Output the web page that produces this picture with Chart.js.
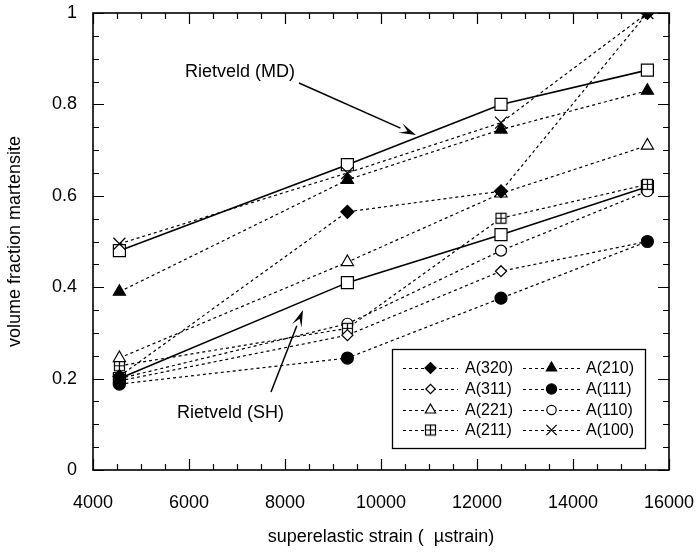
<!DOCTYPE html>
<html>
<head>
<meta charset="utf-8">
<script src="https://cdn.jsdelivr.net/npm/chart.js@4/dist/chart.umd.min.js"></script>
<style>
  html, body { margin: 0; padding: 0; background: #fff; }
  #wrap { width: 696px; height: 552px; }
</style>
</head>
<body>
<div id="wrap"><canvas id="fractionChart" width="696" height="552"></canvas></div>
<script>
// strain positions of the four load steps
const strain = [4550, 9300, 12500, 15550];

// peak-intensity fractions
const seriesLabels = ['A(320)', 'A(311)', 'A(221)', 'A(211)', 'A(210)', 'A(111)', 'A(110)', 'A(100)'];
const a320 = [0.205, 0.565, 0.61, 1.0];
const a311 = [0.195, 0.295, 0.435, 0.50];
const a221 = [0.245, 0.455, 0.605, 0.71];
const a211 = [0.228, 0.31, 0.551, 0.625];
const a210 = [0.39, 0.635, 0.745, 0.83];
const a111 = [0.188, 0.245, 0.376, 0.50];
const a110 = [0.20, 0.32, 0.48, 0.61];
const a100 = [0.495, 0.65, 0.76, 1.0];

// Rietveld refinements
const rietveldMD = [0.48, 0.668, 0.80, 0.875];
const rietveldSH = [0.20, 0.41, 0.515, 0.62];

const xTicks = [4000, 6000, 8000, 10000, 12000, 14000, 16000];
const yTicks = [0, 0.2, 0.4, 0.6, 0.8, 1];

const FONT = "'Liberation Sans', Arial, Helvetica, sans-serif";

// little "square with a cross" marker for A(211)
function gridSquare() {
    const c = document.createElement('canvas');
    c.width = 13; c.height = 13;
    const g = c.getContext('2d');
    g.fillStyle = '#fff';
    g.fillRect(1, 1, 11, 11);
    g.strokeStyle = '#000';
    g.lineWidth = 1.2;
    g.strokeRect(1.5, 1.5, 10, 10);
    g.beginPath();
    g.moveTo(6.5, 1.5); g.lineTo(6.5, 11.5);
    g.moveTo(1.5, 6.5); g.lineTo(11.5, 6.5);
    g.stroke();
    return c;
}
const gridMarker = gridSquare();

const markerStyles = [
    { pointStyle: 'rectRot', radius: 6.5, fill: '#000' },
    { pointStyle: 'rectRot', radius: 5.5, fill: '#fff' },
    { pointStyle: 'triangle', radius: 7, fill: '#fff' },
    { pointStyle: gridMarker, radius: 6, fill: '#fff' },
    { pointStyle: 'triangle', radius: 7, fill: '#000' },
    { pointStyle: 'circle', radius: 6, fill: '#000' },
    { pointStyle: 'circle', radius: 5.5, fill: '#fff' },
    { pointStyle: 'crossRot', radius: 8.5, fill: '#fff' }
];
const seriesValues = [a320, a311, a221, a211, a210, a111, a110, a100];

function toPoints(vals) {
    return vals.map((v, i) => ({ x: strain[i], y: v }));
}

const datasets = seriesValues.map((vals, i) => ({
    label: seriesLabels[i],
    data: toPoints(vals),
    borderColor: '#000',
    borderWidth: 1.2,
    borderDash: [3, 3],
    pointStyle: markerStyles[i].pointStyle,
    pointRadius: markerStyles[i].radius,
    pointBackgroundColor: markerStyles[i].fill,
    pointBorderColor: '#000',
    pointBorderWidth: 1.2,
    order: seriesLabels[i] === 'A(111)' ? -1 : 0,
    tension: 0
}));

datasets.push({
    label: 'Rietveld (MD)',
    data: toPoints(rietveldMD),
    borderColor: '#000',
    borderWidth: 1.6,
    pointStyle: 'rect',
    pointRadius: 8.5,
    pointBackgroundColor: '#fff',
    pointBorderColor: '#000',
    pointBorderWidth: 1.2,
    tension: 0
});
datasets.push({
    label: 'Rietveld (SH)',
    data: toPoints(rietveldSH),
    borderColor: '#000',
    borderWidth: 1.6,
    pointStyle: 'rect',
    pointRadius: 8.5,
    pointBackgroundColor: '#fff',
    pointBorderColor: '#000',
    pointBorderWidth: 1.2,
    tension: 0
});

// inward ticks on all four sides
const tickPlugin = {
    id: 'inTicks',
    afterDatasetsDraw(chart) {
        const ctx = chart.ctx;
        const a = chart.chartArea;
        const xs = chart.scales.x, ys = chart.scales.y;
        ctx.save();
        ctx.strokeStyle = '#000';
        ctx.lineWidth = 1.2;
        ctx.beginPath();
        for (let v = 4000; v <= 16000; v += 500) {
            const px = Math.round(xs.getPixelForValue(v)) + 0.5;
            const len = v % 2000 === 0 ? 11 : 6;
            ctx.moveTo(px, a.bottom); ctx.lineTo(px, a.bottom - len);
            ctx.moveTo(px, a.top); ctx.lineTo(px, a.top + len);
        }
        for (let k = 0; k <= 20; k++) {
            const py = Math.round(ys.getPixelForValue(k * 0.05)) + 0.5;
            const len = k % 4 === 0 ? 11 : 6;
            ctx.moveTo(a.left, py); ctx.lineTo(a.left + len, py);
            ctx.moveTo(a.right, py); ctx.lineTo(a.right - len, py);
        }
        ctx.stroke();
        ctx.lineWidth = 1.6;
        ctx.strokeRect(a.left, a.top, a.right - a.left, a.bottom - a.top);
        ctx.restore();
    }
};

function arrow(ctx, x1, y1, x2, y2) {
    const ang = Math.atan2(y2 - y1, x2 - x1);
    const L = 17, W = 5;
    const bx = x2 - L * Math.cos(ang), by = y2 - L * Math.sin(ang);
    ctx.beginPath();
    ctx.moveTo(x1, y1);
    ctx.lineTo(bx, by);
    ctx.stroke();
    ctx.beginPath();
    ctx.moveTo(x2, y2);
    ctx.lineTo(bx + W * Math.sin(ang), by - W * Math.cos(ang));
    ctx.lineTo(bx + 0.45 * L * Math.cos(ang), by + 0.45 * L * Math.sin(ang));
    ctx.lineTo(bx - W * Math.sin(ang), by + W * Math.cos(ang));
    ctx.closePath();
    ctx.fill();
}

// annotations + legend box
const notePlugin = {
    id: 'notes',
    afterDraw(chart) {
        const ctx = chart.ctx;
        ctx.save();
        ctx.fillStyle = '#000';
        ctx.strokeStyle = '#000';
        ctx.lineWidth = 1.5;
        ctx.font = '18px ' + FONT;
        ctx.textBaseline = 'middle';
        ctx.textAlign = 'left';
        ctx.fillText('Rietveld (MD)', 185, 72);
        ctx.fillText('Rietveld (SH)', 177, 413);
        arrow(ctx, 299, 83, 416, 135);
        arrow(ctx, 271, 392, 303, 310);

        // legend
        const bx = 392, by = 349, bw = 253, bh = 99;
        ctx.fillStyle = '#fff';
        ctx.fillRect(bx, by, bw, bh);
        ctx.lineWidth = 1.3;
        ctx.strokeRect(bx + 0.5, by + 0.5, bw, bh);
        ctx.font = '16px ' + FONT;
        const rows = [368, 389, 410, 430];
        const cols = [{ x0: 403, x1: 458, tx: 465 }, { x0: 523, x1: 580, tx: 586 }];
        const meta = [0, 4, 1, 5, 2, 6, 3, 7];
        meta.forEach((di, k) => {
            const c = cols[k % 2], ry = rows[Math.floor(k / 2)];
            const ds = chart.data.datasets[di];
            ctx.strokeStyle = '#000';
            ctx.lineWidth = 1;
            ctx.setLineDash([3, 3]);
            ctx.beginPath();
            ctx.moveTo(c.x0, ry + 0.5); ctx.lineTo(c.x1, ry + 0.5);
            ctx.stroke();
            ctx.setLineDash([]);
            const mx = (c.x0 + c.x1) / 2;
            ctx.fillStyle = ds.pointBackgroundColor;
            ctx.lineWidth = 1.2;
            Chart.helpers.drawPoint(ctx, {
                pointStyle: ds.pointStyle,
                radius: ds.pointRadius * 0.85,
                rotation: 0,
                borderWidth: 1.2
            }, mx, ry);
            ctx.fillStyle = '#000';
            ctx.fillText(ds.label, c.tx, ry + 1);
        });
        ctx.restore();
    }
};

const ctx = document.getElementById('fractionChart').getContext('2d');
const chartInstance = new Chart(ctx, {
    type: 'line',
    data: { datasets: datasets },
    options: {
        responsive: false,
        animation: false,
        devicePixelRatio: 1,
        layout: { padding: { left: 0, right: 27, top: 13, bottom: 0 } },
        plugins: {
            legend: { display: false },
            tooltip: { enabled: false }
        },
        scales: {
            x: {
                type: 'linear',
                min: 4000,
                max: 16000,
                afterBuildTicks: s => { s.ticks = xTicks.map(v => ({ value: v })); },
                afterFit: s => { s.height = 82; s.paddingLeft = 0; s.paddingRight = 0; },
                grid: { display: false, drawTicks: false },
                border: { display: false },
                ticks: {
                    color: '#000',
                    padding: 22,
                    maxRotation: 0,
                    font: { family: FONT, size: 18 },
                    callback: v => String(v)
                },
                title: {
                    display: true,
                    text: 'superelastic strain (  µstrain)',
                    color: '#000',
                    font: { family: FONT, size: 18 },
                    padding: { top: 0, bottom: 4 }
                }
            },
            y: {
                type: 'linear',
                min: 0,
                max: 1,
                afterBuildTicks: s => { s.ticks = yTicks.map(v => ({ value: v })); },
                afterFit: s => { s.width = 93; s.paddingTop = 0; s.paddingBottom = 0; },
                grid: { display: false, drawTicks: false },
                border: { display: false },
                ticks: {
                    color: '#000',
                    padding: 16,
                    font: { family: FONT, size: 18 },
                    callback: v => String(v)
                },
                title: {
                    display: true,
                    text: 'volume fraction martensite',
                    color: '#000',
                    font: { family: FONT, size: 18 },
                    padding: { top: 4, bottom: 0 }
                }
            }
        }
    },
    plugins: [tickPlugin, notePlugin]
});
</script>
</body>
</html>
